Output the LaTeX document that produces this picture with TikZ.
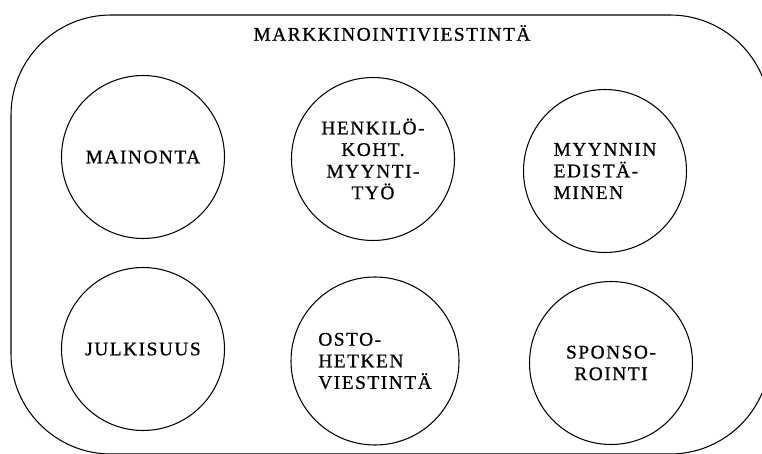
\documentclass[tikz,border=0pt]{standalone}
\usepackage{fontspec}
\setmainfont{Liberation Serif}[LetterSpace=8.0, FakeBold=0.8]
\usepackage{tikz}

\begin{document}
\begin{tikzpicture}[
        keino/.style={draw, circle, minimum size=3.26cm, inner sep=0pt, line width=0.6pt,
                font=\fontsize{11}{12.3}\selectfont, align=center},
        vasen/.style={keino, align=left}]
                \useasboundingbox (0, 0) rectangle (15.24, 9.06);
                \clip (0, 0) rectangle (15.24, 9.06);
                % outer frame, runs past the lower and right edges
                \draw[line width=0.6pt, rounded corners=2cm] (0.22, -0.02) rectangle (15.4, 8.76);
                \node[font=\fontsize{11}{12.3}\selectfont] (otsikko) at (7.84, 8.4){MARKKINOINTIVIESTINTÄ};
                % upper row
                \node[keino] (mainonta) at (2.86, 5.92){MAINONTA};
                \node[keino] (myyntityo) at (7.46, 5.88){HENKILÖ-\\KOHT.\\MYYNTI-\\TYÖ};
                \node[vasen] (edistaminen) at (12.1, 5.64){MYYNNIN\\EDISTÄ-\\MINEN};
                % lower row
                \node[keino] (julkisuus) at (2.86, 2.08){JULKISUUS};
                \node[vasen, minimum size=3.36cm] (ostohetki) at (7.5, 1.84){OSTO-\\HETKEN\\VIESTINTÄ};
                \node[keino] (sponsorointi) at (12.22, 1.8){SPONSO-\\ROINTI};
\end{tikzpicture}
\end{document}
